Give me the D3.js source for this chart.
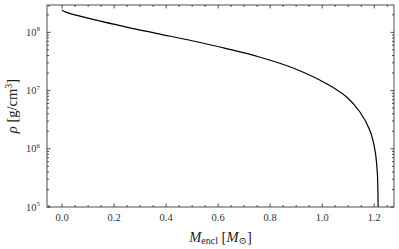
<!DOCTYPE html>
<html>
<head>
<meta charset="utf-8">
<script src="https://cdn.jsdelivr.net/npm/d3@7"></script>
<style>
  body { margin: 0; background: #fff; }
  svg { display: block; font-family: "Liberation Serif", "DejaVu Serif", serif; }
</style>
</head>
<body>
<div id="chart"></div>
<script>
// enclosed mass [M_sun] and density [g/cm^3]
const massEncl = [0, 0.003, 0.017, 0.119, 0.248, 0.376, 0.504, 0.632, 0.758, 0.888,
                  1.017, 1.094, 1.145, 1.183, 1.203, 1.212, 1.215, 1.2175];
const density = [2.45e8, 2.36e8, 2.20e8, 1.67e8, 1.23e8, 9.35e7, 7.10e7, 5.25e7, 3.77e7, 2.44e7,
                 1.31e7, 7.74e6, 4.28e6, 2.08e6, 9.4e5, 3.8e5, 1.0e5, 1.0e4];
const xTicks = [0, 0.2, 0.4, 0.6, 0.8, 1.0, 1.2];
const yTicks = [1e5, 1e6, 1e7, 1e8];

const width = 399, height = 249;
const margin = { top: 5, right: 5, bottom: 42, left: 47 };
const innerW = width - margin.left - margin.right;
const innerH = height - margin.top - margin.bottom;

const svg = d3.select('#chart').append('svg')
  .attr('width', width)
  .attr('height', height);

const g = svg.append('g')
  .attr('transform', `translate(${margin.left},${margin.top})`);

const x = d3.scaleLinear().domain([-0.058, 1.276]).range([0, innerW]);
const y = d3.scaleLog().domain([1e5, 2.95e8]).range([innerH, 0]);

// minor ticks
const xMinor = d3.range(-0.05, 1.28, 0.05).filter(v => Math.abs(v / 0.2 - Math.round(v / 0.2)) > 1e-6);
const yMinor = [];
for (let e = 5; e <= 8; e++) {
  for (let k = 2; k <= 9; k++) {
    const v = k * Math.pow(10, e);
    if (v <= 2.95e8) yMinor.push(v);
  }
}

const tickColor = '#222';
function drawTicks(sel, vals, len, horizontal, top) {
  sel.selectAll(null).data(vals).enter().append('line')
    .attr('stroke', tickColor)
    .attr('stroke-width', 0.8)
    .attr('x1', d => horizontal ? x(d) : (top ? innerW : 0))
    .attr('x2', d => horizontal ? x(d) : (top ? innerW - len : len))
    .attr('y1', d => horizontal ? (top ? 0 : innerH) : y(d))
    .attr('y2', d => horizontal ? (top ? len : innerH - len) : y(d));
}

const ticks = g.append('g');
drawTicks(ticks, xTicks, 3.5, true, false);
drawTicks(ticks, xTicks, 3.5, true, true);
drawTicks(ticks, xMinor, 2, true, false);
drawTicks(ticks, xMinor, 2, true, true);
drawTicks(ticks, yTicks, 3.5, false, false);
drawTicks(ticks, yTicks, 3.5, false, true);
drawTicks(ticks, yMinor, 2, false, false);
drawTicks(ticks, yMinor, 2, false, true);

// clip + curve
g.append('clipPath').attr('id', 'clip')
  .append('rect').attr('width', innerW).attr('height', innerH);

g.append('path')
  .datum(density)
  .attr('clip-path', 'url(#clip)')
  .attr('fill', 'none')
  .attr('stroke', '#000')
  .attr('stroke-width', 1.2)
  .attr('d', d3.line()
    .x((d, i) => x(massEncl[i]))
    .y(d => y(d))
    .curve(d3.curveCatmullRom.alpha(0.5)));

// frame
g.append('rect')
  .attr('width', innerW).attr('height', innerH)
  .attr('fill', 'none').attr('stroke', tickColor).attr('stroke-width', 0.8);

// x tick labels
g.append('g').selectAll('text').data(xTicks).enter().append('text')
  .attr('x', d => x(d))
  .attr('y', innerH + 14)
  .attr('text-anchor', 'middle')
  .attr('font-size', 10.5)
  .attr('fill', '#333')
  .text(d => d.toFixed(1));

// y tick labels: 10^n
const yl = g.append('g').selectAll('text').data(yTicks).enter().append('text')
  .attr('x', -7)
  .attr('y', d => y(d) + 3.5)
  .attr('text-anchor', 'end')
  .attr('font-size', 10.5)
  .attr('fill', '#333');
yl.append('tspan').text('10');
yl.append('tspan')
  .attr('dy', -4.5)
  .attr('font-size', 7)
  .text(d => Math.round(Math.log10(d)));

// axis labels
const xl = svg.append('text')
  .attr('x', margin.left + innerW / 2)
  .attr('y', 242)
  .attr('text-anchor', 'middle')
  .attr('font-size', 14.5)
  .attr('fill', '#222');
xl.append('tspan').attr('font-style', 'italic').text('M');
xl.append('tspan').attr('font-size', 10).attr('dy', 2).text('encl');
xl.append('tspan').attr('dy', -2).text(' [');
xl.append('tspan').attr('font-style', 'italic').text('M');
xl.append('tspan').attr('font-size', 10).attr('dy', 2).text('⊙');
xl.append('tspan').attr('dy', -2).text(']');

const ylab = svg.append('text')
  .attr('transform', `translate(17,${margin.top + innerH / 2}) rotate(-90)`)
  .attr('text-anchor', 'middle')
  .attr('font-size', 14.5)
  .attr('fill', '#222');
ylab.append('tspan').attr('font-style', 'italic').text('ρ');
ylab.append('tspan').text(' [g/cm');
ylab.append('tspan').attr('font-size', 10).attr('dy', -5).text('3');
ylab.append('tspan').attr('dy', 5).text(']');
</script>
</body>
</html>
